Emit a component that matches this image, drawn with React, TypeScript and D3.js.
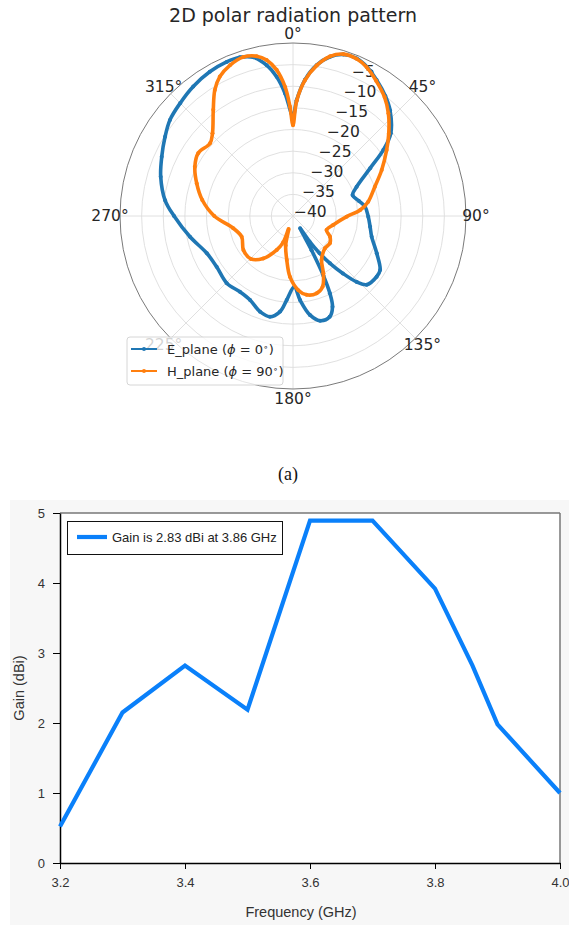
import React, { useEffect, useRef } from 'react';
import * as d3 from 'd3';

// polar pattern: angle in degrees (clockwise, 0° at top), gain in dB
const eAngles = [0, 1.8, 5, 8.9, 13.1, 17.3, 22, 26.3, 31.6, 37.6, 42.5, 49.8, 53.8, 58.2, 65.3, 70.6, 77, 82.6, 90.5, 97.9, 104.7, 114, 121.8, 126, 133, 136, 139, 142, 144.5, 147, 150, 151.5, 153, 154.5, 156.5, 160, 165.5, 170.3, 175.2, 179, 184.3, 187.7, 192.9, 199, 207.1, 215, 224.6, 236.4, 246.6, 258.6, 270, 277, 286.5, 294.3, 301.8, 308, 315, 322.4, 330, 336.7, 341.5, 346, 350.1, 353.3, 356.3];
const eGain = [-17.0, -13.2, -8.4, -4.7, -2.2, -0.9, -0.7, -1.5, -3.1, -5.0, -6.8, -10.4, -14.1, -19.0, -23.8, -25.4, -24.4, -23.2, -22.6, -22.0, -21.2, -18.8, -16.3, -16.1, -16.7, -18.8, -22.4, -26.1, -29.5, -33.0, -36.7, -31.0, -24.5, -20.2, -17.1, -15.2, -15.0, -16.8, -20.5, -23.6, -20.5, -17.7, -16.1, -16.6, -18.2, -18.6, -18.2, -18.8, -18.3, -15.7, -12.5, -10.2, -8.1, -6.7, -5.2, -3.9, -3.1, -2.2, -1.5, -1.2, -1.3, -2.2, -4.6, -7.6, -11.6];

const hAngles = [0, 1.8, 5, 8.9, 13.1, 17.3, 22, 26.3, 31.6, 37.6, 42.9, 49.3, 54.8, 62.6, 70.3, 79.2, 84.9, 90.7, 102.6, 112.6, 119.2, 126.4, 135.3, 146.9, 152.1, 157.2, 163, 170.2, 175.9, 182.8, 188, 194, 198.5, 200.5, 205.6, 215.1, 224.5, 235.6, 248, 258.4, 270, 280, 288.7, 296.7, 303.5, 311.2, 315.8, 323.1, 328.2, 332.3, 337.4, 342.6, 347.2, 350.4, 353.6, 356.5, 358.4];
const hGain = [-19.0, -13.4, -8.5, -4.8, -2.1, -0.8, -0.8, -1.6, -3.3, -5.3, -7.6, -10.8, -13.5, -16.9, -19.9, -22.3, -24.4, -27.6, -30.5, -31.6, -30.2, -29.4, -29.5, -27.9, -25.0, -22.3, -21.3, -21.5, -22.8, -25.9, -29.7, -33.0, -36.8, -33.5, -31.3, -28.0, -26.1, -26.1, -27.2, -25.9, -21.8, -18.7, -16.5, -14.6, -13.7, -14.5, -13.3, -9.3, -5.7, -3.6, -2.2, -1.5, -2.1, -3.4, -6.0, -10.1, -14.7];

const radialTicks = [-40, -35, -30, -25, -20, -15, -10, -5];
const angleTicks = [0, 45, 90, 135, 180, 225, 270, 315];

// gain vs frequency
const freqs = [3.2, 3.3, 3.4, 3.5, 3.6, 3.7, 3.8, 3.86, 3.9, 4.0];
const gains = [0.52, 2.15, 2.82, 2.19, 4.89, 4.89, 3.92, 2.82, 1.98, 1.0];
const freqTicks = [3.2, 3.4, 3.6, 3.8, 4.0];
const gainTicks = [0, 1, 2, 3, 4, 5];

const W = 569;
const H = 925;
const rad = (d) => (d * Math.PI) / 180;

const drawPolar = (svg) => {
  const cx = 293, cy = 216, R = 173;
  const font = 'DejaVu Sans, sans-serif';
  const r = d3.scaleLinear().domain([-40, 0]).range([0, R]);

  svg.append('text')
    .attr('x', cx).attr('y', 22)
    .attr('text-anchor', 'middle')
    .style('font-family', font).style('font-size', '19px')
    .attr('fill', '#262626')
    .text('2D polar radiation pattern');

  const g = svg.append('g').attr('transform', `translate(${cx},${cy})`);

  g.selectAll('.ring').data(radialTicks.slice(1)).enter()
    .append('circle')
    .attr('r', (d) => r(d))
    .attr('fill', 'none').attr('stroke', '#dcdcdc').attr('stroke-width', 0.9);

  g.selectAll('.spoke').data(angleTicks).enter()
    .append('line')
    .attr('x1', 0).attr('y1', 0)
    .attr('x2', (d) => R * Math.sin(rad(d)))
    .attr('y2', (d) => -R * Math.cos(rad(d)))
    .attr('stroke', '#dcdcdc').attr('stroke-width', 0.9);

  g.append('circle').attr('r', R)
    .attr('fill', 'none').attr('stroke', '#7a7a7a').attr('stroke-width', 1);

  g.selectAll('.alab').data(angleTicks).enter()
    .append('text')
    .attr('x', (d) => 183 * Math.sin(rad(d)))
    .attr('y', (d) => -183 * Math.cos(rad(d)) + (d === 0 ? 1 : 0))
    .attr('text-anchor', 'middle').attr('dominant-baseline', 'central')
    .style('font-family', font).style('font-size', '15.5px')
    .attr('fill', '#262626')
    .text((d) => `${d}°`);

  g.selectAll('.rlab').data(radialTicks).enter()
    .append('text')
    .attr('x', (d) => r(d) * Math.sin(rad(22.5)) + 1)
    .attr('y', (d) => -r(d) * Math.cos(rad(22.5)) + 1)
    .style('font-family', font).style('font-size', '15.5px')
    .attr('fill', '#262626')
    .text((d) => `\u2212${Math.abs(d)}`);

  const line = d3.lineRadial().curve(d3.curveCatmullRomClosed.alpha(0.5));
  const series = [
    { angles: eAngles, values: eGain, color: '#1f77b4' },
    { angles: hAngles, values: hGain, color: '#ff7f0e' },
  ];
  series.forEach((s) => {
    const pts = s.angles.map((a, i) => [rad(a), r(s.values[i])]);
    g.append('path')
      .attr('d', line(pts))
      .attr('fill', 'none').attr('stroke', s.color)
      .attr('stroke-width', 3.6).attr('stroke-linejoin', 'round');
    g.selectAll(null).data(pts).enter()
      .append('circle')
      .attr('cx', (p) => p[1] * Math.sin(p[0]))
      .attr('cy', (p) => -p[1] * Math.cos(p[0]))
      .attr('r', 2).attr('fill', s.color);
  });

  // legend
  const lg = svg.append('g');
  lg.append('rect')
    .attr('x', 127).attr('y', 337).attr('width', 156).attr('height', 48).attr('rx', 3)
    .attr('fill', '#fff').attr('fill-opacity', 0.8)
    .attr('stroke', '#cccccc').attr('stroke-width', 0.8);
  const items = [
    { name: 'E_plane', ang: '0', color: '#1f77b4', y: 349 },
    { name: 'H_plane', ang: '90', color: '#ff7f0e', y: 371 },
  ];
  items.forEach((it) => {
    lg.append('line')
      .attr('x1', 131).attr('x2', 157).attr('y1', it.y).attr('y2', it.y)
      .attr('stroke', it.color).attr('stroke-width', 2);
    lg.append('circle').attr('cx', 144).attr('cy', it.y).attr('r', 2).attr('fill', it.color);
    const t = lg.append('text')
      .attr('x', 167).attr('y', it.y + 4.5)
      .style('font-family', font).style('font-size', '13px')
      .attr('fill', '#262626');
    t.append('tspan').text(`${it.name} (`);
    t.append('tspan').style('font-style', 'italic').text('\u03d5');
    t.append('tspan').text(` = ${it.ang}`);
    t.append('tspan').attr('dy', -4).style('font-size', '9px').text('\u2218');
    t.append('tspan').attr('dy', 4).text(')');
  });

  svg.append('text')
    .attr('x', 288).attr('y', 480)
    .attr('text-anchor', 'middle')
    .style('font-family', 'Liberation Serif, Times New Roman, serif').style('font-size', '18px')
    .attr('fill', '#111')
    .text('(a)');
};

const drawGain = (svg) => {
  const font = 'Liberation Sans, Arial, sans-serif';
  const x = d3.scaleLinear().domain([3.2, 4.0]).range([60, 560]);
  const y = d3.scaleLinear().domain([0, 5]).range([863, 513]);

  svg.append('rect').attr('x', 10).attr('y', 500).attr('width', 559).attr('height', 425).attr('fill', '#f7f7f7');
  svg.append('rect').attr('x', 60).attr('y', 513).attr('width', 500).attr('height', 350).attr('fill', '#fff');

  svg.append('line').attr('x1', 60).attr('x2', 560).attr('y1', 513).attr('y2', 513)
    .attr('stroke', '#777').attr('stroke-width', 1.5);
  svg.append('line').attr('x1', 560).attr('x2', 560).attr('y1', 513).attr('y2', 863)
    .attr('stroke', '#777').attr('stroke-width', 1.5);

  const xAxis = svg.append('g')
    .attr('transform', 'translate(0,863)')
    .call(d3.axisBottom(x).tickValues(freqTicks).tickFormat(d3.format('.1f')).tickSize(6).tickSizeOuter(0).tickPadding(9));
  const yAxis = svg.append('g')
    .attr('transform', 'translate(60,0)')
    .call(d3.axisLeft(y).tickValues(gainTicks).tickFormat(d3.format('d')).tickSize(7).tickSizeOuter(0).tickPadding(8));
  [xAxis, yAxis].forEach((a) => {
    a.select('.domain').attr('stroke', '#000').attr('stroke-width', 1.5);
    a.selectAll('line').attr('stroke', '#000');
    a.selectAll('text').style('font-family', font).style('font-size', '13px').attr('fill', '#333');
  });

  const line = d3.line().x((d) => x(d[0])).y((d) => y(d[1]));
  svg.append('path')
    .attr('d', line(freqs.map((f, i) => [f, gains[i]])))
    .attr('fill', 'none').attr('stroke', '#0a80fa').attr('stroke-width', 4.2)
    .attr('stroke-linejoin', 'miter');

  svg.append('text')
    .attr('x', 301).attr('y', 917).attr('text-anchor', 'middle')
    .style('font-family', font).style('font-size', '14.5px').attr('fill', '#333')
    .text('Frequency (GHz)');
  svg.append('text')
    .attr('transform', 'translate(24,688) rotate(-90)').attr('text-anchor', 'middle')
    .style('font-family', font).style('font-size', '14.5px').attr('fill', '#333')
    .text('Gain (dBi)');

  // legend
  svg.append('rect').attr('x', 67.5).attr('y', 521.5).attr('width', 215).attr('height', 33)
    .attr('fill', '#fff').attr('stroke', '#111').attr('stroke-width', 1);
  svg.append('line').attr('x1', 77).attr('x2', 107).attr('y1', 537).attr('y2', 537)
    .attr('stroke', '#0a80fa').attr('stroke-width', 4.2);
  svg.append('text').attr('x', 112).attr('y', 542)
    .style('font-family', font).style('font-size', '13px').attr('fill', '#222')
    .text('Gain is 2.83 dBi at 3.86 GHz');
};

const App = () => {
  const ref = useRef(null);

  useEffect(() => {
    const svg = d3.select(ref.current);
    svg.selectAll('*').remove();
    drawPolar(svg);
    drawGain(svg);
  }, []);

  return (
    <svg
      ref={ref}
      width={W}
      height={H}
      style={{ position: 'absolute', left: 0, top: 0, background: '#fff' }}
    />
  );
};

export default App;
